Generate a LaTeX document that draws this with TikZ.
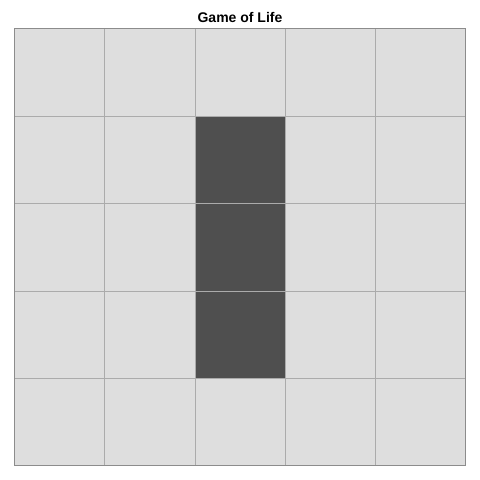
\documentclass[tikz,border=0pt]{standalone}
\usepackage{fontspec}
\setmainfont{Liberation Sans}
\definecolor{deadc}{HTML}{DEDEDE}
\definecolor{alivec}{HTML}{4F4F4F}
\definecolor{gridc}{HTML}{ABABAB}
\definecolor{borderc}{HTML}{8C8C8C}
\begin{document}
\begin{tikzpicture}[x=1pt,y=-1pt,
  cellline/.style={draw=gridc,line width=0.9pt},
  titletext/.style={font=\bfseries\fontsize{14}{16}\selectfont,text=black}]
\useasboundingbox (0,0) rectangle (480,480);
\def\xs{{14,104.5,195,285,375.5,465.5}}
\def\ys{{28.5,116,203.5,291,378,465.5}}
\foreach \r in {0,...,4}{
  \foreach \c in {0,...,4}{
    \pgfmathsetmacro\xa{\xs[\c]}
    \pgfmathsetmacro\xb{\xs[\c+1]}
    \pgfmathsetmacro\ya{\ys[\r]}
    \pgfmathsetmacro\yb{\ys[\r+1]}
    \pgfmathtruncatemacro\alive{(\c==2 && \r>=1 && \r<=3) ? 1 : 0}
    \ifnum\alive=1
      \fill[alivec] (\xa,\ya) rectangle (\xb,\yb);
    \else
      \fill[deadc] (\xa,\ya) rectangle (\xb,\yb);
    \fi
  }
}
\foreach \i in {1,...,4}{
  \pgfmathsetmacro\xx{\xs[\i]}
  \pgfmathsetmacro\yy{\ys[\i]}
  \draw[cellline] (\xx,28.5) -- (\xx,465.5);
  \draw[cellline] (14,\yy) -- (465.5,\yy);
}
\draw[draw=borderc,line width=0.9pt] (14,28.5) rectangle (465.5,465.5);
\node[titletext] (title) at (240,17) {Game of Life};
\end{tikzpicture}
\end{document}
